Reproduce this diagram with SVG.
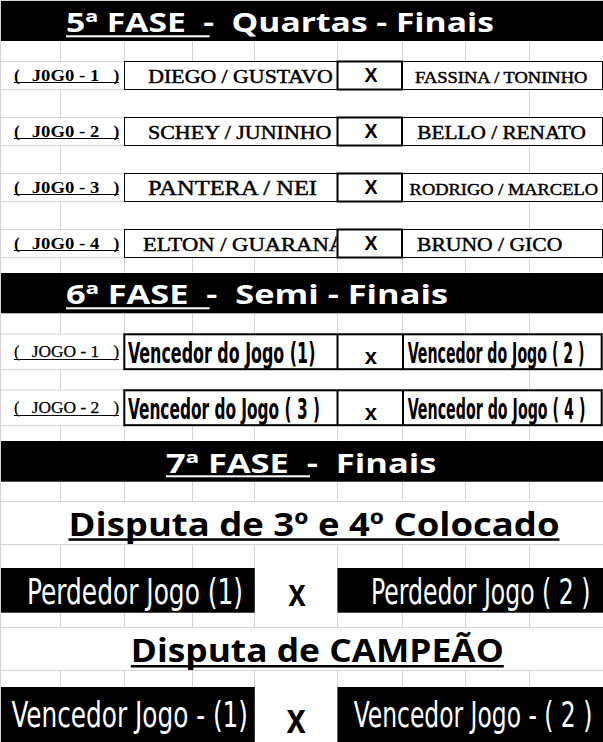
<svg xmlns="http://www.w3.org/2000/svg" width="603" height="742" viewBox="0 0 603 742">
<style>
text { white-space: pre; }
.grid line { stroke: #d4d4d4; stroke-width: 1; }
.band { fill: #000; }
.hdr { font-family: "Open Sans", Lato, "Liberation Sans", sans-serif; font-weight: 700; font-size: 27px; fill: #fff; }
.ul-w { fill: #fff; }
.ul-b { fill: #000; }
.lblq { font-family: "Liberation Serif", "Times New Roman", serif; font-weight: 700; font-size: 17.5px; fill: #000; }
.lbls { font-family: "Liberation Serif", "Times New Roman", serif; font-weight: 400; font-size: 17px; fill: #000; stroke: #000; stroke-width: 0.25; }
.team { font-family: "Liberation Serif", "Times New Roman", serif; font-weight: 400; fill: #000; stroke: #000; stroke-width: 0.45; }
.box { fill: #fff; stroke: #000; stroke-width: 1; }
.xbox { fill: #fff; stroke: #000; stroke-width: 2; }
.sbox { fill: #fff; stroke: #000; stroke-width: 2; }
.sdiv { stroke: #000; stroke-width: 2; }
.xq { font-family: "Liberation Sans", Arial, sans-serif; font-weight: 700; font-size: 19.5px; text-anchor: middle; fill: #000; }
.cond { font-family: "Liberation Sans Narrow", "DejaVu Sans Condensed", "Liberation Sans", sans-serif; }
.semi { font-weight: 700; fill: #000; }
.fin { font-weight: 400; fill: #fff; }
.xs { font-family: "Liberation Sans", Arial, sans-serif; font-weight: 700; font-size: 22px; text-anchor: middle; fill: #000; }
.xb { font-family: "Liberation Sans", Arial, sans-serif; font-weight: 700; fill: #000; }
.disp { font-family: "Open Sans", Lato, "Liberation Sans", sans-serif; font-weight: 700; font-size: 32px; fill: #000; }
</style>
<defs>
<clipPath id="clipElton"><rect x="124.5" y="229.5" width="212" height="28"/></clipPath>
</defs>
<rect x="0" y="0" width="603" height="742" fill="#fff"/>
<g id="grid" class="grid">
<line x1="0.5" y1="0" x2="0.5" y2="742"/>
<line x1="0" y1="0.5" x2="603" y2="0.5"/>
<line x1="0" y1="61.5" x2="603" y2="61.5"/>
<line x1="0" y1="89.5" x2="603" y2="89.5"/>
<line x1="0" y1="117.5" x2="603" y2="117.5"/>
<line x1="0" y1="145.5" x2="603" y2="145.5"/>
<line x1="0" y1="173.5" x2="603" y2="173.5"/>
<line x1="0" y1="201.5" x2="603" y2="201.5"/>
<line x1="0" y1="229.5" x2="603" y2="229.5"/>
<line x1="0" y1="257.5" x2="603" y2="257.5"/>
<line x1="0" y1="334" x2="603" y2="334"/>
<line x1="0" y1="369.5" x2="603" y2="369.5"/>
<line x1="0" y1="390" x2="603" y2="390"/>
<line x1="0" y1="425.5" x2="603" y2="425.5"/>
<line x1="0" y1="501.5" x2="603" y2="501.5"/>
<line x1="0" y1="544.5" x2="603" y2="544.5"/>
<line x1="0" y1="627.5" x2="603" y2="627.5"/>
<line x1="0" y1="670.5" x2="603" y2="670.5"/>
<g id="cols-a">
<line x1="60.5" y1="41" x2="60.5" y2="61"/><line x1="124.5" y1="41" x2="124.5" y2="61"/><line x1="192.5" y1="41" x2="192.5" y2="61"/><line x1="254.5" y1="41" x2="254.5" y2="61"/><line x1="337.5" y1="41" x2="337.5" y2="61"/><line x1="402.5" y1="41" x2="402.5" y2="61"/><line x1="465.5" y1="41" x2="465.5" y2="61"/><line x1="529.5" y1="41" x2="529.5" y2="61"/>
</g>
<g id="cols-b">
<line x1="60.5" y1="257" x2="60.5" y2="273"/><line x1="124.5" y1="257" x2="124.5" y2="273"/><line x1="192.5" y1="257" x2="192.5" y2="273"/><line x1="254.5" y1="257" x2="254.5" y2="273"/><line x1="337.5" y1="257" x2="337.5" y2="273"/><line x1="402.5" y1="257" x2="402.5" y2="273"/><line x1="465.5" y1="257" x2="465.5" y2="273"/><line x1="529.5" y1="257" x2="529.5" y2="273"/>
</g>
<g id="cols-c">
<line x1="60.5" y1="313" x2="60.5" y2="334"/><line x1="124.5" y1="313" x2="124.5" y2="334"/><line x1="192.5" y1="313" x2="192.5" y2="334"/><line x1="254.5" y1="313" x2="254.5" y2="334"/><line x1="337.5" y1="313" x2="337.5" y2="334"/><line x1="402.5" y1="313" x2="402.5" y2="334"/><line x1="465.5" y1="313" x2="465.5" y2="334"/><line x1="529.5" y1="313" x2="529.5" y2="334"/>
</g>
<g id="cols-d">
<line x1="60.5" y1="425" x2="60.5" y2="441"/><line x1="124.5" y1="425" x2="124.5" y2="441"/><line x1="192.5" y1="425" x2="192.5" y2="441"/><line x1="254.5" y1="425" x2="254.5" y2="441"/><line x1="337.5" y1="425" x2="337.5" y2="441"/><line x1="402.5" y1="425" x2="402.5" y2="441"/><line x1="465.5" y1="425" x2="465.5" y2="441"/><line x1="529.5" y1="425" x2="529.5" y2="441"/>
</g>
<g id="cols-e">
<line x1="60.5" y1="482" x2="60.5" y2="502"/><line x1="124.5" y1="482" x2="124.5" y2="502"/><line x1="192.5" y1="482" x2="192.5" y2="502"/><line x1="254.5" y1="482" x2="254.5" y2="502"/><line x1="337.5" y1="482" x2="337.5" y2="502"/><line x1="402.5" y1="482" x2="402.5" y2="502"/><line x1="465.5" y1="482" x2="465.5" y2="502"/><line x1="529.5" y1="482" x2="529.5" y2="502"/>
</g>
<g id="cols-f">
<line x1="60.5" y1="544" x2="60.5" y2="568"/><line x1="124.5" y1="544" x2="124.5" y2="568"/><line x1="192.5" y1="544" x2="192.5" y2="568"/><line x1="254.5" y1="544" x2="254.5" y2="568"/><line x1="337.5" y1="544" x2="337.5" y2="568"/><line x1="402.5" y1="544" x2="402.5" y2="568"/><line x1="465.5" y1="544" x2="465.5" y2="568"/><line x1="529.5" y1="544" x2="529.5" y2="568"/>
</g>
<g id="cols-g">
<line x1="60.5" y1="613" x2="60.5" y2="627"/><line x1="124.5" y1="613" x2="124.5" y2="627"/><line x1="192.5" y1="613" x2="192.5" y2="627"/><line x1="254.5" y1="613" x2="254.5" y2="627"/><line x1="337.5" y1="613" x2="337.5" y2="627"/><line x1="402.5" y1="613" x2="402.5" y2="627"/><line x1="465.5" y1="613" x2="465.5" y2="627"/><line x1="529.5" y1="613" x2="529.5" y2="627"/>
</g>
<g id="cols-h">
<line x1="60.5" y1="670" x2="60.5" y2="687"/><line x1="124.5" y1="670" x2="124.5" y2="687"/><line x1="192.5" y1="670" x2="192.5" y2="687"/><line x1="254.5" y1="670" x2="254.5" y2="687"/><line x1="337.5" y1="670" x2="337.5" y2="687"/><line x1="402.5" y1="670" x2="402.5" y2="687"/><line x1="465.5" y1="670" x2="465.5" y2="687"/><line x1="529.5" y1="670" x2="529.5" y2="687"/>
</g>
<g id="cols-gaps">
<line x1="60.5" y1="89" x2="60.5" y2="117"/><line x1="529.5" y1="89" x2="529.5" y2="117"/>
<line x1="60.5" y1="145" x2="60.5" y2="173"/><line x1="529.5" y1="145" x2="529.5" y2="173"/>
<line x1="60.5" y1="201" x2="60.5" y2="229"/><line x1="529.5" y1="201" x2="529.5" y2="229"/>
<line x1="60.5" y1="369" x2="60.5" y2="390"/><line x1="529.5" y1="369" x2="529.5" y2="390"/>
</g>
</g>
<g id="connectors"></g>

<g id="fase5-header">
<rect class="band" x="1" y="1" width="602" height="40"/>
<text class="hdr" x="66" y="32.3" textLength="428" lengthAdjust="spacingAndGlyphs">5ª FASE  -  Quartas - Finais</text>
<rect class="ul-w" x="66" y="35.3" width="143.6" height="2"/>
</g>

<g id="q-jogo1">
<text class="lblq" x="14" y="81">(</text>
<text class="lblq" x="31.7" y="81" textLength="67.6" lengthAdjust="spacingAndGlyphs">J0G0 - 1</text>
<text class="lblq" x="113.5" y="81">)</text>
<rect class="ul-b" x="14" y="82" width="105" height="1"/>
<rect class="box" x="124.5" y="61.5" width="213" height="28"/>
<rect class="box" x="402.5" y="61.5" width="200" height="28"/>
<rect class="xbox" x="337.5" y="61.5" width="64.5" height="28"/>
<text class="team" x="148.3" y="82.8" font-size="18" textLength="184.5" lengthAdjust="spacingAndGlyphs">DIEGO / GUSTAVO</text>
<text class="xq" x="371" y="82.3">X</text>
<text class="team" x="415" y="82.8" font-size="16" textLength="172.3" lengthAdjust="spacingAndGlyphs">FASSINA / TONINHO</text>
</g>

<g id="q-jogo2">
<text class="lblq" x="14" y="137">(</text>
<text class="lblq" x="31.7" y="137" textLength="67.6" lengthAdjust="spacingAndGlyphs">J0G0 - 2</text>
<text class="lblq" x="113.5" y="137">)</text>
<rect class="ul-b" x="14" y="138" width="105" height="1"/>
<rect class="box" x="124.5" y="117.5" width="213" height="28"/>
<rect class="box" x="402.5" y="117.5" width="200" height="28"/>
<rect class="xbox" x="337.5" y="117.5" width="64.5" height="28"/>
<text class="team" x="148" y="138.5" font-size="19" textLength="183.5" lengthAdjust="spacingAndGlyphs">SCHEY / JUNINHO</text>
<text class="xq" x="371" y="138.3">X</text>
<text class="team" x="417.3" y="138.5" font-size="19" textLength="168.7" lengthAdjust="spacingAndGlyphs">BELLO / RENATO</text>
</g>

<g id="q-jogo3">
<text class="lblq" x="14" y="193">(</text>
<text class="lblq" x="31.7" y="193" textLength="67.6" lengthAdjust="spacingAndGlyphs">J0G0 - 3</text>
<text class="lblq" x="113.5" y="193">)</text>
<rect class="ul-b" x="14" y="194" width="105" height="1"/>
<rect class="box" x="124.5" y="173.5" width="213" height="28"/>
<rect class="box" x="402.5" y="173.5" width="200" height="28"/>
<rect class="xbox" x="337.5" y="173.5" width="64.5" height="28"/>
<text class="team" x="148" y="195" font-size="20.5" textLength="169" lengthAdjust="spacingAndGlyphs">PANTERA / NEI</text>
<text class="xq" x="371" y="194.3">X</text>
<text class="team" x="409.6" y="195" font-size="17" textLength="188.4" lengthAdjust="spacingAndGlyphs">RODRIGO / MARCELO</text>
</g>

<g id="q-jogo4">
<text class="lblq" x="14" y="249">(</text>
<text class="lblq" x="31.7" y="249" textLength="67.6" lengthAdjust="spacingAndGlyphs">J0G0 - 4</text>
<text class="lblq" x="113.5" y="249">)</text>
<rect class="ul-b" x="14" y="250" width="105" height="1"/>
<rect class="box" x="124.5" y="229.5" width="213" height="28"/>
<rect class="box" x="402.5" y="229.5" width="200" height="28"/>
<text class="team" x="143" y="250.7" font-size="19" textLength="202" lengthAdjust="spacingAndGlyphs" clip-path="url(#clipElton)">ELTON / GUARANÁ</text>
<rect class="xbox" x="337.5" y="229.5" width="64.5" height="28"/>
<text class="xq" x="371" y="250.3">X</text>
<text class="team" x="417" y="250.7" font-size="19" textLength="145.3" lengthAdjust="spacingAndGlyphs">BRUNO / GICO</text>
</g>

<g id="fase6-header">
<rect class="band" x="1" y="273" width="602" height="40.3"/>
<text class="hdr" x="66" y="304.3" textLength="382" lengthAdjust="spacingAndGlyphs">6ª FASE  -  Semi - Finais</text>
<rect class="ul-w" x="66" y="307.3" width="143.6" height="2"/>
</g>

<g id="s-jogo1">
<text class="lbls" x="14" y="357.3">(</text>
<text class="lbls" x="31.7" y="357.3" textLength="67.6" lengthAdjust="spacingAndGlyphs">JOGO - 1</text>
<text class="lbls" x="113.5" y="357.3">)</text>
<rect class="ul-b" x="14" y="359" width="105" height="1"/>
<rect class="sbox" x="124.3" y="334.3" width="477.4" height="34.9"/>
<line class="sdiv" x1="337.5" y1="334.3" x2="337.5" y2="369.2"/>
<line class="sdiv" x1="403" y1="334.3" x2="403" y2="369.2"/>
<text class="cond semi" transform="translate(128 363.3) scale(1 1.64)" x="0" y="0" font-size="17.7" textLength="187.4" lengthAdjust="spacingAndGlyphs">Vencedor do Jogo (1)</text>
<text class="xs" x="370.8" y="364">x</text>
<text class="cond semi" transform="translate(407.7 363.3) scale(1 1.83)" x="0" y="0" font-size="15.85" textLength="176.9" lengthAdjust="spacingAndGlyphs">Vencedor do Jogo ( 2 )</text>
</g>

<g id="s-jogo2">
<text class="lbls" x="14" y="413.3">(</text>
<text class="lbls" x="31.7" y="413.3" textLength="67.6" lengthAdjust="spacingAndGlyphs">JOGO - 2</text>
<text class="lbls" x="113.5" y="413.3">)</text>
<rect class="ul-b" x="14" y="415" width="105" height="1"/>
<rect class="sbox" x="124.3" y="390.3" width="477.4" height="34.9"/>
<line class="sdiv" x1="337.5" y1="390.3" x2="337.5" y2="425.2"/>
<line class="sdiv" x1="403" y1="390.3" x2="403" y2="425.2"/>
<text class="cond semi" transform="translate(128 419.3) scale(1 1.68)" x="0" y="0" font-size="17.25" textLength="192" lengthAdjust="spacingAndGlyphs">Vencedor do Jogo ( 3 )</text>
<text class="xs" x="370.8" y="420">x</text>
<text class="cond semi" transform="translate(407.7 419.3) scale(1 1.82)" x="0" y="0" font-size="15.95" textLength="177.7" lengthAdjust="spacingAndGlyphs">Vencedor do Jogo ( 4 )</text>
</g>

<g id="fase7-header">
<rect class="band" x="1" y="441" width="602" height="40.7"/>
<text class="hdr" x="166" y="472.8" textLength="270.5" lengthAdjust="spacingAndGlyphs">7ª FASE  -  Finais</text>
<rect class="ul-w" x="166" y="475.3" width="144" height="2"/>
</g>

<g id="disputa-terceiro">
<text class="disp" x="68.5" y="535.5" textLength="491" lengthAdjust="spacingAndGlyphs">Disputa de 3º e 4º Colocado</text>
<rect class="ul-b" x="68.5" y="538.3" width="491" height="2.5"/>
</g>

<g id="jogo-terceiro">
<rect class="band" x="1" y="568" width="253.8" height="44.7"/>
<rect class="band" x="337.4" y="568" width="265.6" height="44.7"/>
<text class="cond fin" transform="translate(27 604.3) scale(1 1.385)" x="0" y="0" font-size="26" textLength="216" lengthAdjust="spacingAndGlyphs">Perdedor Jogo (1)</text>
<text class="xb" transform="translate(288.3 606) scale(1 1.21)" x="0" y="0" font-size="31.5" textLength="17.5" lengthAdjust="spacingAndGlyphs">x</text>
<text class="cond fin" transform="translate(371 604.3) scale(1 1.455)" x="0" y="0" font-size="24.75" textLength="219.4" lengthAdjust="spacingAndGlyphs">Perdedor Jogo ( 2 )</text>
</g>

<g id="disputa-campeao">
<text class="disp" x="130.8" y="662.3" textLength="373" lengthAdjust="spacingAndGlyphs">Disputa de CAMPEÃO</text>
<rect class="ul-b" x="130.8" y="665" width="373" height="2.5"/>
</g>

<g id="jogo-final">
<rect class="band" x="1" y="687" width="253.8" height="55"/>
<rect class="band" x="337.4" y="687" width="265.6" height="55"/>
<text class="cond fin" transform="translate(11.5 726.7) scale(1 1.385)" x="0" y="0" font-size="26" textLength="236.5" lengthAdjust="spacingAndGlyphs">Vencedor Jogo - (1)</text>
<text class="xb" transform="translate(286.5 733) scale(1 1.21)" x="0" y="0" font-size="34.7" textLength="19.3" lengthAdjust="spacingAndGlyphs">x</text>
<text class="cond fin" transform="translate(353.8 726.7) scale(1 1.46)" x="0" y="0" font-size="24.65" textLength="238.5" lengthAdjust="spacingAndGlyphs">Vencedor Jogo - ( 2 )</text>
</g>
</svg>
